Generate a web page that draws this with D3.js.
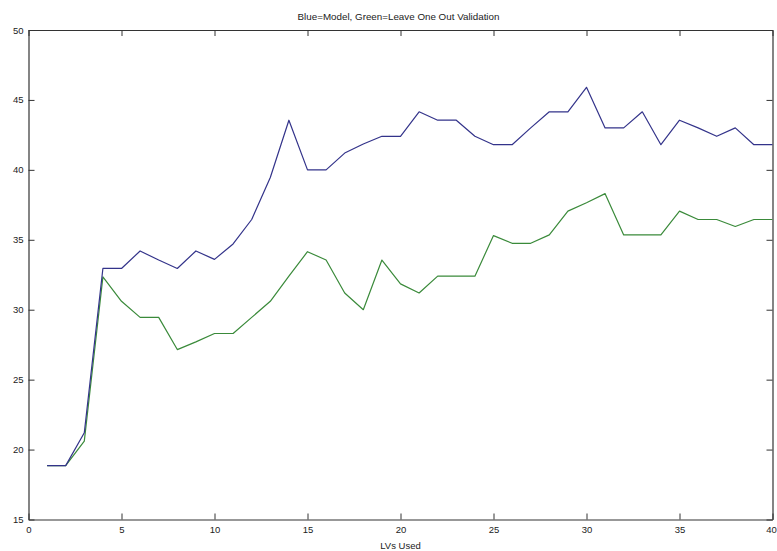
<!DOCTYPE html>
<html>
<head>
<meta charset="utf-8">
<script src="https://cdn.jsdelivr.net/npm/d3@7"></script>
<style>
  html, body { margin: 0; padding: 0; background: #fff; }
  svg { display: block; }
  text { font-family: "Liberation Sans", Arial, Helvetica, sans-serif; fill: #222; }
</style>
</head>
<body>
<svg id="chart" width="777" height="551"></svg>
<script>
// Number of latent variables used (x axis)
const lvs = d3.range(1, 41);

// Model fit (blue)
const modelValues = [
  18.85, 18.85, 21.2, 32.95, 32.95, 34.2, 33.55, 32.95, 34.2, 33.6,
  34.7, 36.45, 39.45, 43.55, 40.0, 40.0, 41.2, 41.85, 42.4, 42.4,
  44.15, 43.55, 43.55, 42.4, 41.8, 41.8, 43.0, 44.15, 44.15, 45.9,
  43.0, 43.0, 44.15, 41.8, 43.55, 43.0, 42.4, 43.0, 41.8, 41.8
];

// Leave-one-out validation (green)
const validationValues = [
  18.85, 18.85, 20.6, 32.35, 30.6, 29.45, 29.45, 27.15, 27.7, 28.3,
  28.3, 29.45, 30.6, 32.4, 34.15, 33.55, 31.2, 30.0, 33.55, 31.85,
  31.2, 32.4, 32.4, 32.4, 35.3, 34.75, 34.75, 35.35, 37.05, 37.65,
  38.3, 35.35, 35.35, 35.35, 37.05, 36.45, 36.45, 35.95, 36.45, 36.45
];

const xTicks = [0, 5, 10, 15, 20, 25, 30, 35, 40];
const yTicks = [15, 20, 25, 30, 35, 40, 45, 50];

const titleText = "Blue=Model, Green=Leave One Out Validation";
const xLabelText = "LVs Used";

const svg = d3.select("#chart");
const margin = { left: 28.5, right: 4.5, top: 30, bottom: 31.5 };
const W = 777, H = 551;

const x = d3.scaleLinear().domain([0, 40]).range([margin.left, W - margin.right]);
const y = d3.scaleLinear().domain([15, 50]).range([H - margin.bottom, margin.top]);

const tickLen = 6;

// Frame with inward ticks on all four sides
const axisBottom = d3.axisBottom(x).tickValues(xTicks).tickSizeInner(-tickLen).tickSizeOuter(0).tickPadding(7);
const axisTop = d3.axisTop(x).tickValues(xTicks).tickSizeInner(-tickLen).tickSizeOuter(0).tickFormat("");
const axisLeft = d3.axisLeft(y).tickValues(yTicks).tickSizeInner(-tickLen).tickSizeOuter(0).tickPadding(5);
const axisRight = d3.axisRight(y).tickValues(yTicks).tickSizeInner(-tickLen).tickSizeOuter(0).tickFormat("");

function styleAxis(g) {
  g.selectAll(".domain").attr("stroke", "#333").attr("stroke-width", 1.2);
  g.selectAll(".tick line").attr("stroke", "#333").attr("stroke-width", 1);
  g.selectAll(".tick text")
    .attr("font-family", "\"Liberation Sans\", Arial, sans-serif")
    .attr("font-size", 9.5).attr("fill", "#222");
}

const gx = svg.append("g").attr("transform", `translate(0,${y(15)})`).call(axisBottom).call(styleAxis);
// keep the last x label inside the page edge
gx.selectAll(".tick text").filter(d => d === 40).attr("dx", -1.5);
svg.append("g").attr("transform", `translate(0,${y(50)})`).call(axisTop).call(styleAxis);
svg.append("g").attr("transform", `translate(${x(0)},0)`).call(axisLeft).call(styleAxis);
svg.append("g").attr("transform", `translate(${x(40)},0)`).call(axisRight).call(styleAxis);

// Series lines
const line = d3.line().x((d, i) => x(lvs[i])).y(d => y(d));

svg.append("path")
  .datum(validationValues)
  .attr("fill", "none")
  .attr("stroke", "#3a8a3a")
  .attr("stroke-width", 1.2)
  .attr("stroke-linejoin", "round")
  .attr("d", line);

svg.append("path")
  .datum(modelValues)
  .attr("fill", "none")
  .attr("stroke", "#33338a")
  .attr("stroke-width", 1.2)
  .attr("stroke-linejoin", "round")
  .attr("d", line);

// Title and axis label
svg.append("text")
  .attr("x", (x(0) + x(40)) / 2 - 2)
  .attr("y", 20)
  .attr("text-anchor", "middle")
  .attr("font-size", 9.8)
  .text(titleText);

svg.append("text")
  .attr("x", (x(0) + x(40)) / 2)
  .attr("y", 549)
  .attr("text-anchor", "middle")
  .attr("font-size", 9.5)
  .text(xLabelText);
</script>
</body>
</html>
